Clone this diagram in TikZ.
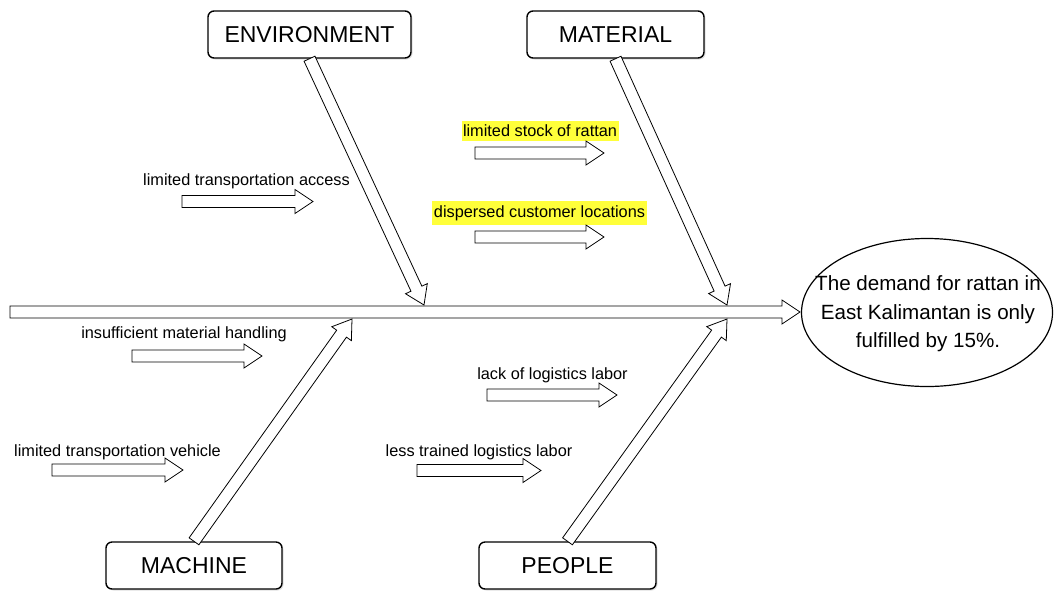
\documentclass[tikz,border=0pt]{standalone}
\usepackage{fontspec}
\setmainfont{Liberation Sans}
\usepackage{tikz}
\usetikzlibrary{calc,shadows}
\definecolor{marker}{HTML}{FFFF3A}
% hollow block arrow from #2 to #3
\def\blockarrow[#1](#2)(#3){%
	\coordinate (ba-n) at ($(#3)!18pt!(#2)$);
	\draw[#1] ($(#2)!6pt!90:(#3)$) -- ($(ba-n)!6pt!-90:(#2)$) -- ($(ba-n)!12pt!-90:(#2)$) -- (#3)
		-- ($(ba-n)!12pt!90:(#2)$) -- ($(ba-n)!6pt!90:(#2)$) -- ($(#2)!6pt!-90:(#3)$) -- cycle;}
\tikzset{
	catbox/.style={draw, line width=1.4pt, rounded corners=6pt, fill=white, minimum height=47pt,
		font=\fontsize{23}{27}\selectfont, drop shadow={opacity=0.25, shadow xshift=1.5pt, shadow yshift=-1.5pt}},
	causetext/.style={inner sep=1.5pt, font=\fontsize{16.3}{19}\selectfont},
	marked/.style={causetext, fill=marker, inner ysep=4.5pt},
	arrowline/.style={line width=0.8pt, fill=white}
}

\begin{document}
\begin{tikzpicture}[x=1pt, y=-1pt]
	%%%%% START %%%%%
	\useasboundingbox (0, 0) rectangle (1056, 590);
	
	\node[catbox, minimum width=203pt] (env) at (309.5, 34.5) {ENVIRONMENT};
	\node[catbox, minimum width=177pt] (mat) at (615.5, 34.5) {MATERIAL};
	\node[catbox, minimum width=176pt] (mach) at (194, 565.5) {MACHINE};
	\node[catbox, minimum width=177pt] (peop) at (567.5, 565.5) {PEOPLE};
	
	\draw[line width=1.2pt] (927, 312.5) ellipse [x radius=125.5, y radius=74];
	\node[align=center, font=\fontsize{20.6}{28.5}\selectfont] (effect) at (928, 314) {The demand for rattan in\\East Kalimantan is only\\fulfilled by 15\%.};
	
	% spine
	\coordinate (spine) at (10, 312);
	\coordinate (goal) at (800, 312);
	\blockarrow[arrowline](spine)(goal)
	
	% main bones
	\coordinate (env-tip) at (424, 305);
	\coordinate (mat-tip) at (727, 305);
	\coordinate (mach-tip) at (352, 319);
	\coordinate (peop-tip) at (727, 319);
	\blockarrow[arrowline](env.south)(env-tip)
	\blockarrow[arrowline](mat.south)(mat-tip)
	\blockarrow[arrowline](mach.north)(mach-tip)
	\blockarrow[arrowline](peop.north)(peop-tip)
	
	% causes
	\node[causetext] (access) at (246.5, 181) {limited transportation access};
	\coordinate (access-a) at (182, 201.5);
	\coordinate (access-b) at (313, 201.5);
	\blockarrow[arrowline](access-a)(access-b)
	
	\node[marked] (stock) at (540, 131) {limited stock of rattan};
	\coordinate (stock-a) at (475, 153);
	\coordinate (stock-b) at (604, 153);
	\blockarrow[arrowline](stock-a)(stock-b)
	
	\node[marked] (dispersed) at (539.5, 213) {dispersed customer locations};
	\coordinate (dispersed-a) at (475, 237);
	\coordinate (dispersed-b) at (604, 237);
	\blockarrow[arrowline](dispersed-a)(dispersed-b)
	
	\node[causetext] (handling) at (184, 334) {insufficient material handling};
	\coordinate (handling-a) at (132, 356);
	\coordinate (handling-b) at (262, 356);
	\blockarrow[arrowline](handling-a)(handling-b)
	
	\node[causetext] (vehicle) at (117.5, 452) {limited transportation vehicle};
	\coordinate (vehicle-a) at (52, 470);
	\coordinate (vehicle-b) at (183, 470);
	\blockarrow[arrowline](vehicle-a)(vehicle-b)
	
	\node[causetext] (lack) at (552.5, 375) {lack of logistics labor};
	\coordinate (lack-a) at (487, 395);
	\coordinate (lack-b) at (617, 395);
	\blockarrow[arrowline](lack-a)(lack-b)
	
	\node[causetext] (trained) at (479, 452) {less trained logistics labor};
	\coordinate (trained-a) at (417, 470.5);
	\coordinate (trained-b) at (541, 470.5);
	\blockarrow[arrowline](trained-a)(trained-b)
	
	%%%%% END %%%%%
\end{tikzpicture}
\end{document}
